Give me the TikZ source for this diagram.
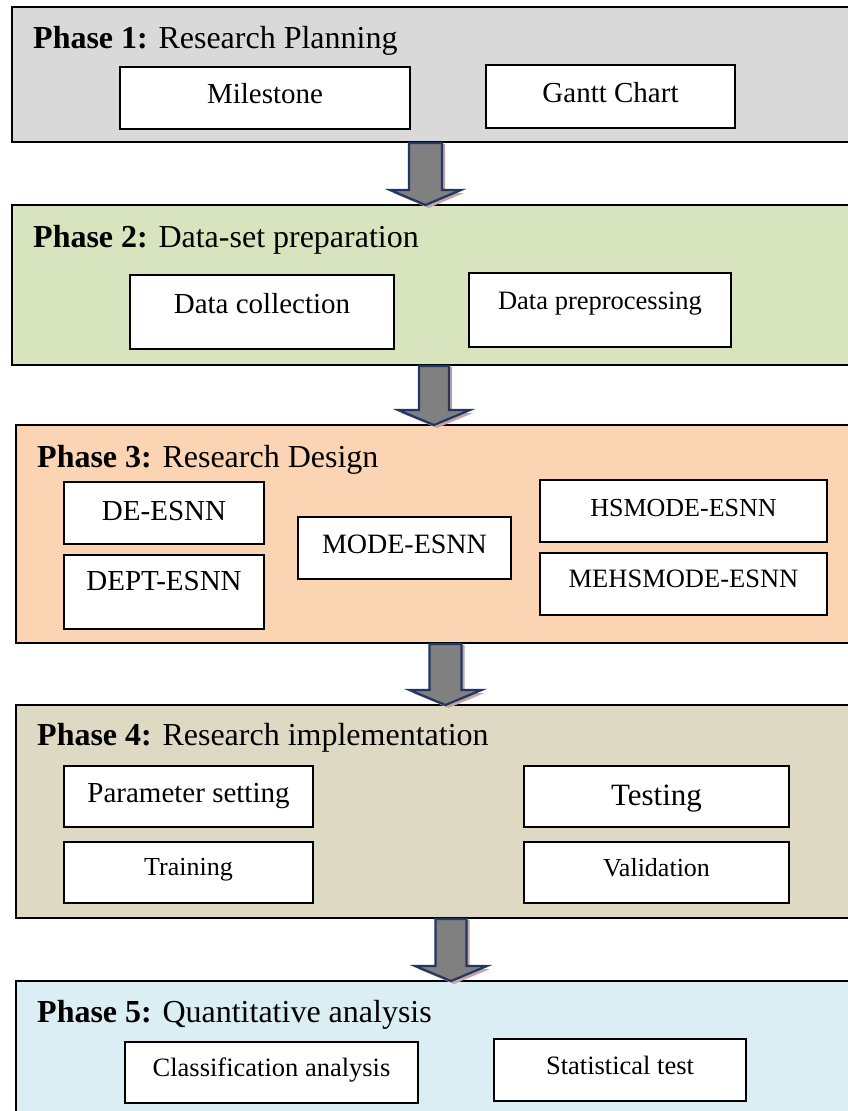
\documentclass[tikz,border=0pt]{standalone}
\usepackage{fontspec}
\setmainfont{Liberation Serif}
\usetikzlibrary{calc}

\definecolor{phaseA}{HTML}{D9D9D9}
\definecolor{phaseB}{HTML}{D7E4BD}
\definecolor{phaseC}{HTML}{FBD4B4}
\definecolor{phaseD}{HTML}{DDD9C3}
\definecolor{phaseE}{HTML}{DAEEF3}
\definecolor{arrowgrey}{HTML}{808080}
\definecolor{arrownavy}{HTML}{1F3864}
\definecolor{arrowshade}{HTML}{C9A2A2}

\tikzset{
  panel/.style={draw=black, line width=1.8pt, anchor=north west,
    inner sep=0pt, outer sep=0pt},
  itemframe/.style={draw=black, line width=1.7pt, fill=white,
    anchor=north west, inner sep=0pt, outer sep=0pt},
  phasetitle/.style={anchor=base west, inner sep=0pt,
    font=\fontsize{32}{38}\selectfont},
  itemlabel/.style={anchor=base, inner sep=0pt},
  blockarrow/.style={fill=arrowgrey, draw=arrownavy, line width=2.2pt,
    line join=miter},
  blockshade/.style={fill=arrowshade}
}

% white item box: name, x1, y1, x2, y2, baseline, font size, text
\newcommand\putitem[8]{%
  \node[itemframe, minimum width={(#4-#2)*1pt},
        minimum height={(#5-#3)*1pt}] (#1) at (#2,#3) {};
  \node[itemlabel, font=\fontsize{#7}{#7}\selectfont]
        (#1-t) at (#1.center |- 0,#6) {#8};
}

% block arrow between two panels: from, to, x centre, shaft half width, head half width
\newcommand\flowarrowdraw[5]{%
  \fill[blockshade] let \p1=(#1.south), \p2=(#2.north) in
    ({(#3-#4+3)*1pt},\y1-2pt) -- ({(#3-#4+3)*1pt},\y2+12pt)
    -- ({(#3-#5+3)*1pt},\y2+12pt) -- ({(#3+3)*1pt},\y2-3pt)
    -- ({(#3+#5+3)*1pt},\y2+12pt) -- ({(#3+#4+3)*1pt},\y2+12pt)
    -- ({(#3+#4+3)*1pt},\y1-2pt) -- cycle;
  \draw[blockarrow] let \p1=(#1.south), \p2=(#2.north) in
    ({(#3-#4)*1pt},\y1-1pt) -- ({(#3-#4)*1pt},\y2+15pt)
    -- ({(#3-#5)*1pt},\y2+15pt) -- ({#3*1pt},\y2)
    -- ({(#3+#5)*1pt},\y2+15pt) -- ({(#3+#4)*1pt},\y2+15pt)
    -- ({(#3+#4)*1pt},\y1-1pt) -- cycle;
}

\begin{document}
\begin{tikzpicture}[x=1pt, y=-1pt]
  \useasboundingbox (0,0) rectangle (848,1111);
  \clip (0,0) rectangle (848,1111);
  \fill[white] (0,0) rectangle (848,1111);

  % phase panels
  \node[panel, fill=phaseA, minimum width=880pt, minimum height=135pt] (p1) at (12,7) {};
  \node[panel, fill=phaseB, minimum width=880pt, minimum height=160pt] (p2) at (12,205) {};
  \node[panel, fill=phaseC, minimum width=880pt, minimum height=218pt] (p3) at (16,425) {};
  \node[panel, fill=phaseD, minimum width=880pt, minimum height=213pt] (p4) at (16,705) {};
  \node[panel, fill=phaseE, minimum width=880pt, minimum height=200pt] (p5) at (16,981) {};

  % phase titles
  \node[phasetitle] (t1) at (33,48)   {\textbf{Phase 1:} Research Planning};
  \node[phasetitle] (t2) at (33,247)  {\textbf{Phase 2:} Data-set preparation};
  \node[phasetitle] (t3) at (37,467)  {\textbf{Phase 3:} Research Design};
  \node[phasetitle] (t4) at (37,745)  {\textbf{Phase 4:} Research implementation};
  \node[phasetitle] (t5) at (37,1022) {\textbf{Phase 5:} Quantitative analysis};

  % phase 1
  \putitem{milestone}{120}{67}{410}{129}{103}{29}{Milestone}
  \putitem{gantt}{486}{65}{735}{128}{102}{29}{Gantt Chart}

  % phase 2
  \putitem{collect}{130}{275}{394}{349}{313}{29}{Data collection}
  \putitem{prep}{469}{273}{731}{347}{309}{26.5}{Data preprocessing}

  % phase 3
  \putitem{de}{64}{482}{264}{544}{520}{29}{DE-ESNN}
  \putitem{dept}{64}{555}{264}{629}{590}{29}{DEPT-ESNN}
  \putitem{mode}{298}{517}{511}{579}{553}{28}{MODE-ESNN}
  \putitem{hsmode}{540}{480}{827}{542}{516}{26}{HSMODE-ESNN}
  \putitem{mehsmode}{540}{553}{827}{615}{587}{26.5}{MEHSMODE-ESNN}

  % phase 4
  \putitem{param}{64}{766}{313}{827}{802}{29}{Parameter setting}
  \putitem{train}{64}{842}{313}{903}{875}{26}{Training}
  \putitem{test}{524}{766}{789}{827}{805}{31}{Testing}
  \putitem{valid}{524}{842}{789}{903}{876}{26}{Validation}

  % phase 5
  \putitem{classif}{125}{1042}{418}{1103}{1076}{26.5}{Classification analysis}
  \putitem{stat}{494}{1039}{746}{1101}{1074}{26.5}{Statistical test}

  % block arrows between phases
  \flowarrowdraw{p1}{p2}{425.5}{16.5}{35.5}
  \flowarrowdraw{p2}{p3}{434}{15}{36}
  \flowarrowdraw{p3}{p4}{445.5}{16}{36}
  \flowarrowdraw{p4}{p5}{451}{15.5}{36}
\end{tikzpicture}
\end{document}
